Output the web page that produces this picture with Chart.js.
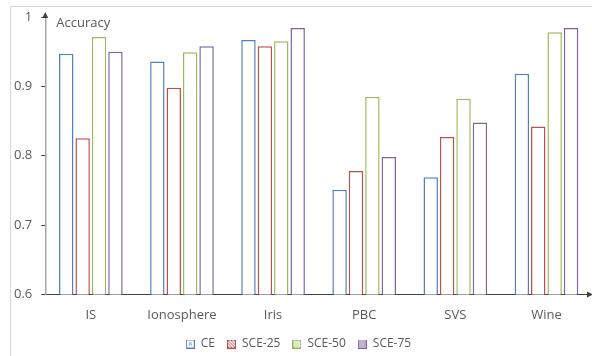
<!DOCTYPE html>
<html>
<head>
<meta charset="utf-8">
<script src="https://cdn.jsdelivr.net/npm/chart.js@4/dist/chart.umd.min.js"></script>
<style>
  html, body { margin: 0; padding: 0; background: #fff; }
  #wrap { position: relative; width: 592px; height: 356px; }
  #frame { position: absolute; left: 10px; top: 6px; width: 600px; height: 400px; border: 1px solid #d9d9d9; box-sizing: border-box; }
  canvas { position: absolute; left: 0; top: 0; }
</style>
</head>
<body>
<div id="wrap">
  <div id="frame"></div>
  <canvas id="barChart" width="592" height="356"></canvas>
</div>
<script>
const categories = ['IS', 'Ionosphere', 'Iris', 'PBC', 'SVS', 'Wine']
const seriesNames = ['CE', 'SCE-25', 'SCE-50', 'SCE-75']
const ce = [0.947, 0.936, 0.967, 0.751, 0.769, 0.918]
const sce25 = [0.825, 0.898, 0.958, 0.778, 0.827, 0.842]
const sce50 = [0.971, 0.949, 0.965, 0.885, 0.882, 0.978]
const sce75 = [0.950, 0.958, 0.984, 0.798, 0.848, 0.984]
const yTicks = [0.6, 0.7, 0.8, 0.9, 1]

const colors = ['#4f81bd', '#c0504d', '#9bbb59', '#8064a2']
const textColor = '#595959'
const font = "'Open Sans', 'DejaVu Sans', sans-serif"

// small patterned squares for the legend
function legendBox (color, kind) {
  const c = document.createElement('canvas')
  c.width = 9
  c.height = 9
  const g = c.getContext('2d')
  g.fillStyle = '#fff'
  g.fillRect(0, 0, 9, 9)
  g.strokeStyle = color
  g.lineWidth = 1
  g.beginPath()
  if (kind === 0) {
    g.moveTo(3, 3); g.lineTo(6, 6); g.moveTo(6, 3); g.lineTo(3, 6)
  } else if (kind === 1) {
    for (let i = -9; i < 9; i += 3) { g.moveTo(i, 0); g.lineTo(i + 9, 9) }
  } else if (kind === 2) {
    for (let i = 0; i < 18; i += 3) { g.moveTo(i, 0); g.lineTo(i - 9, 9) }
  } else {
    for (let i = 2.5; i < 9; i += 2) { g.moveTo(0, i); g.lineTo(9, i) }
  }
  g.stroke()
  g.strokeRect(0.5, 0.5, 8, 8)
  return c
}

const axisArrows = {
  id: 'axisArrows',
  afterDraw (chart) {
    const { ctx, chartArea, scales } = chart
    const x0 = scales.y.left + scales.y.width
    ctx.save()
    ctx.fillStyle = '#404040'
    // y arrow
    ctx.beginPath()
    ctx.moveTo(x0, chartArea.top - 5)
    ctx.lineTo(x0 + 3, chartArea.top + 1)
    ctx.lineTo(x0 - 3, chartArea.top + 1)
    ctx.fill()
    // x arrow
    ctx.beginPath()
    ctx.moveTo(chartArea.right + 1, chartArea.bottom)
    ctx.lineTo(chartArea.right - 5, chartArea.bottom - 3)
    ctx.lineTo(chartArea.right - 5, chartArea.bottom + 3)
    ctx.fill()
    ctx.fillStyle = textColor
    ctx.font = '13px ' + font
    ctx.textBaseline = 'middle'
    ctx.fillText('Accuracy', x0 + 11, chartArea.top + 6)
    ctx.restore()
  }
}

const data = [ce, sce25, sce50, sce75]

new Chart(document.getElementById('barChart'), {
  type: 'bar',
  data: {
    labels: categories,
    datasets: seriesNames.map((name, i) => ({
      label: name,
      data: data[i],
      backgroundColor: '#ffffff',
      borderColor: colors[i],
      borderWidth: 1.5,
      borderSkipped: 'bottom',
      categoryPercentage: 0.72,
      barPercentage: 0.88,
      pointStyle: legendBox(colors[i], i)
    }))
  },
  options: {
    responsive: false,
    animation: false,
    layout: { padding: { left: 5, right: 0, top: 17, bottom: -4 } },
    plugins: {
      tooltip: { enabled: false },
      legend: {
        position: 'bottom',
        labels: {
          usePointStyle: true,
          color: textColor,
          font: { family: font, size: 12 },
          boxWidth: 9,
          boxHeight: 9,
          padding: 12
        }
      }
    },
    scales: {
      x: {
        grid: { display: false, drawTicks: false },
        border: { color: '#404040', width: 1 },
        ticks: { color: textColor, font: { family: font, size: 13 }, padding: 13 },
        afterFit: scale => { scale.height -= 10 }
      },
      y: {
        min: 0.6,
        max: 1,
        afterBuildTicks: axis => { axis.ticks = yTicks.map(v => ({ value: v })) },
        grid: { drawOnChartArea: false, tickLength: 4, color: '#404040' },
        border: { color: '#a6a6a6', width: 1.5 },
        ticks: {
          color: textColor,
          font: { family: font, size: 13 },
          padding: 9,
          callback: v => String(Math.round(v * 10) / 10)
        }
      }
    }
  },
  plugins: [axisArrows]
})
</script>
</body>
</html>
